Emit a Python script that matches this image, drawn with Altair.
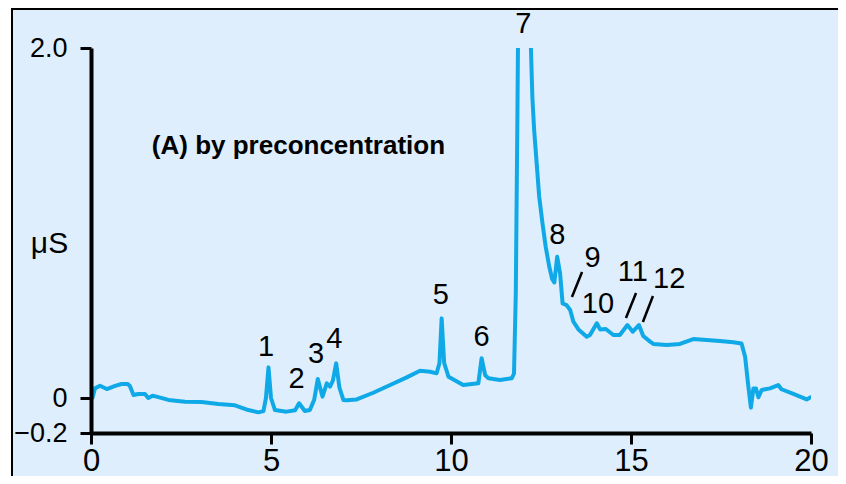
import altair as alt
import pandas as pd

# --- data ---------------------------------------------------------------
# trace segment before the off-scale peak 7 (time in min, conductivity in uS)
seg_a_t = [0.00, 0.04, 0.11, 0.25, 0.44, 0.67, 0.85, 1.02, 1.08, 1.18, 1.31, 1.50,
           1.59, 1.71, 1.82, 2.15, 2.61, 3.07, 3.54, 4.00, 4.37, 4.65, 4.79, 4.86,
           4.93, 5.00, 5.11, 5.43, 5.67, 5.78, 5.94, 6.08, 6.20, 6.30, 6.43, 6.55,
           6.64, 6.72, 6.81, 6.90, 7.01, 7.10, 7.38, 7.84, 8.31, 8.77, 9.14, 9.42,
           9.60, 9.68, 9.74, 9.81, 9.93, 10.34, 10.76, 10.85, 10.95, 11.04, 11.36,
           11.69, 11.75, 11.80, 11.84, 11.86]
seg_a_v = [0.000, 0.000, 0.055, 0.070, 0.051, 0.069, 0.080, 0.080, 0.069, 0.017, 0.023, 0.023,
           0.000, 0.013, 0.008, -0.011, -0.021, -0.023, -0.034, -0.042, -0.069, -0.082, -0.075, 0.000,
           0.175, 0.000, -0.069, -0.078, -0.070, -0.030, -0.074, -0.069, -0.010, 0.109, 0.008, 0.084,
           0.065, 0.100, 0.198, 0.060, -0.011, -0.013, -0.008, 0.030, 0.074, 0.118, 0.156, 0.150,
           0.141, 0.200, 0.455, 0.200, 0.122, 0.074, 0.084, 0.227, 0.130, 0.113, 0.103,
           0.113, 0.140, 0.600, 1.500, 2.000]
# trace segment after the off-scale peak 7
seg_b_t = [12.22, 12.26, 12.31, 12.38, 12.45, 12.54, 12.63, 12.73, 12.81, 12.87, 12.95, 13.03,
           13.10, 13.21, 13.31, 13.40, 13.54, 13.77, 13.86, 14.05, 14.14, 14.30, 14.51, 14.69,
           14.90, 15.05, 15.22, 15.34, 15.53, 15.62, 15.99, 16.36, 16.73, 17.10, 17.47, 17.84,
           18.07, 18.17, 18.26, 18.33, 18.40, 18.47, 18.54, 18.63, 18.86, 19.09, 19.18, 19.51,
           19.88, 19.99]
seg_b_v = [2.000, 1.720, 1.530, 1.340, 1.150, 1.000, 0.865, 0.750, 0.680, 0.660, 0.807, 0.712,
           0.540, 0.531, 0.503, 0.436, 0.392, 0.350, 0.360, 0.427, 0.392, 0.394, 0.360, 0.360,
           0.417, 0.379, 0.417, 0.354, 0.322, 0.309, 0.303, 0.309, 0.337, 0.331, 0.326, 0.318,
           0.312, 0.236, 0.065, -0.055, 0.055, 0.055, 0.004, 0.046, 0.055, 0.074, 0.050, 0.023,
           -0.008, 0.004]

# peak numbers and their label positions
peak_names = ["1", "2", "3", "4", "5", "6", "7", "8", "9", "10", "11", "12"]
peak_t = [4.86, 5.71, 6.25, 6.76, 9.72, 10.85, 12.01, 12.95, 13.93, 14.08, 15.05, 16.06]
peak_v = [0.29, 0.11, 0.25, 0.34, 0.59, 0.35, 2.14, 0.93, 0.80, 0.54, 0.72, 0.68]

# leader lines for peaks 9, 11, 12
lead_t1 = [13.64, 15.14, 15.61]
lead_v1 = [0.72, 0.60, 0.583]
lead_t2 = [13.36, 14.86, 15.33]
lead_v2 = [0.577, 0.457, 0.434]

title_text = "(A) by preconcentration"
title_t = [1.69]
title_v = [1.44]

x_ticks = [0, 5, 10, 15, 20]
y_ticks = [-0.2, 0, 2.0]

# --- build tables ---------------------------------------------------------
trace = pd.DataFrame({
    "t": seg_a_t + seg_b_t,
    "v": seg_a_v + seg_b_v,
    "seg": ["a"] * len(seg_a_t) + ["b"] * len(seg_b_t),
})
peaks = pd.DataFrame({"name": peak_names, "t": peak_t, "v": peak_v})
leads = pd.DataFrame({"t1": lead_t1, "v1": lead_v1, "t2": lead_t2, "v2": lead_v2})
title_df = pd.DataFrame({"label": [title_text], "t": title_t, "v": title_v})
dummy = pd.DataFrame({"a": [0]})

FONT = "Liberation Sans, Arial, sans-serif"
BG = "#deeefc"
LINE = "#0fa9e8"

xscale = alt.Scale(domain=[0, 20], nice=False, zero=False)
yscale = alt.Scale(domain=[-0.2, 2.0], nice=False, zero=False)

xaxis = alt.Axis(values=x_ticks, title=None, grid=False, labelFont=FONT, labelFontSize=31,
                 labelColor="black", labelPadding=2, tickSize=11, tickWidth=3,
                 tickColor="black", domainColor="black", domainWidth=4, labelFlush=False,
                 zindex=2)
yaxis = alt.Axis(values=y_ticks, grid=False, labelFont=FONT, labelFontSize=27,
                 labelColor="black", labelPadding=13, tickSize=11, tickWidth=3,
                 tickColor="black", domainColor="black", domainWidth=4,
                 labelExpr="datum.value === 0 ? '0' : format(datum.value, '.1f')",
                 title="μS", titleAngle=0, titleX=-42, titleY=195, titleAlign="center",
                 titleBaseline="middle", titleFont=FONT, titleFontSize=30,
                 titleFontWeight="normal", titleColor="black", labelFlush=False,
                 zindex=2)

panel = alt.Chart(dummy).mark_rect(color=BG).encode(
    x=alt.value(-79), x2=alt.value(900), y=alt.value(-40), y2=alt.value(431))
top_border = alt.Chart(dummy).mark_rule(color="black", strokeWidth=2).encode(
    x=alt.value(-79), x2=alt.value(900), y=alt.value(-39))
left_border = alt.Chart(dummy).mark_rule(color="black", strokeWidth=2).encode(
    x=alt.value(-79), y=alt.value(-40), y2=alt.value(431))

line = alt.Chart(trace).mark_line(color=LINE, strokeWidth=4, clip=True,
                                  strokeCap="round", strokeJoin="round").encode(
    x=alt.X("t:Q", scale=xscale, axis=xaxis),
    y=alt.Y("v:Q", scale=yscale, axis=yaxis),
    detail="seg:N",
    order="t:Q",
)

labels = alt.Chart(peaks).mark_text(font=FONT, fontSize=29, color="black",
                                    align="center", baseline="middle").encode(
    x=alt.X("t:Q", scale=xscale), y=alt.Y("v:Q", scale=yscale), text="name:N")

leaders = alt.Chart(leads).mark_rule(color="black", strokeWidth=2.5).encode(
    x=alt.X("t1:Q", scale=xscale), y=alt.Y("v1:Q", scale=yscale),
    x2="t2:Q", y2="v2:Q")

title = alt.Chart(title_df).mark_text(font=FONT, fontSize=26,
                                      fontWeight="bold", color="black",
                                      align="left", baseline="middle").encode(
    x=alt.X("t:Q", scale=xscale), y=alt.Y("v:Q", scale=yscale), text="label:N")

chart = alt.layer(panel, top_border, left_border, line, leaders, labels, title).properties(
    width=720, height=385,
    autosize=alt.AutoSizeParams(type="none"),
    padding={"left": 83, "top": 40, "right": 27, "bottom": 43},
    background="white",
).configure_view(stroke=None)

chart.save("out.html", embed_options={"renderer": "svg", "actions": False})
